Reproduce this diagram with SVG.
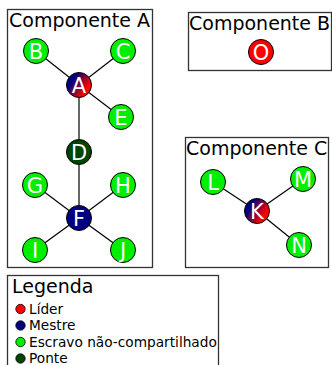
<svg xmlns="http://www.w3.org/2000/svg" width="332" height="365" viewBox="0 0 332 365">
  <style>
    .box { fill: #ffffff; stroke: #333333; stroke-width: 1.3; }
    .title { font-family: "DejaVu Sans", sans-serif; font-size: 19px; fill: #000000; }
    .node circle { stroke: #000000; stroke-width: 1; }
    .node text { font-family: "DejaVu Sans", sans-serif; font-size: 21px; fill: #ffffff; text-anchor: middle; }
    .edges line { stroke: #000000; stroke-width: 1.2; }
    .leader { fill: #ff0000; }
    .master { fill: #000080; }
    .slave { fill: #00ee00; }
    .bridge { fill: #004400; }
    .mixed { fill: url(#leaderMaster); }
    .legend text { font-family: "DejaVu Sans", sans-serif; font-size: 13.7px; fill: #000000; }
    .legend circle { stroke: #000000; stroke-width: 0.8; }
  </style>
  <defs>
    <linearGradient id="leaderMaster" x1="0.1" y1="0.25" x2="0.9" y2="0.75">
      <stop offset="0.15" stop-color="#000080"/>
      <stop offset="0.85" stop-color="#ff0000"/>
    </linearGradient>
  </defs>

  <rect width="332" height="365" fill="#ffffff"/>

  <!-- component frames -->
  <rect class="box" x="7.5" y="9.5" width="145" height="258"/>
  <text class="title" x="9" y="27">Componente A</text>
  <rect class="box" x="188.5" y="12.5" width="143" height="58"/>
  <text class="title" x="189" y="30">Componente B</text>
  <rect class="box" x="185.5" y="137.5" width="143" height="130"/>
  <text class="title" x="186" y="155">Componente C</text>

  <g class="edges">
    <line x1="36" y1="51" x2="79" y2="85"/>
    <line x1="123" y1="51" x2="79" y2="85"/>
    <line x1="121" y1="117" x2="79" y2="85"/>
    <line x1="79" y1="85" x2="79" y2="152"/>
    <line x1="79" y1="152" x2="79" y2="218"/>
    <line x1="35" y1="185" x2="79" y2="218"/>
    <line x1="123" y1="185" x2="79" y2="218"/>
    <line x1="35" y1="250" x2="79" y2="218"/>
    <line x1="123" y1="250" x2="79" y2="218"/>
    <line x1="213" y1="182" x2="257" y2="211"/>
    <line x1="303" y1="179" x2="257" y2="211"/>
    <line x1="299" y1="245" x2="257" y2="211"/>
  </g>

  <g id="node-B" class="node"><circle class="slave" cx="36" cy="51" r="12.5"/><text x="36" y="58.5">B</text></g>
  <g id="node-C" class="node"><circle class="slave" cx="123" cy="51" r="12.5"/><text x="123" y="58.5">C</text></g>
  <g id="node-A" class="node"><circle class="mixed" cx="79" cy="85" r="12.5"/><text x="79" y="92.5">A</text></g>
  <g id="node-E" class="node"><circle class="slave" cx="121" cy="117" r="12.5"/><text x="121" y="124.5">E</text></g>
  <g id="node-D" class="node"><circle class="bridge" cx="79" cy="152" r="12.5"/><text x="79" y="159.5">D</text></g>
  <g id="node-G" class="node"><circle class="slave" cx="35" cy="185" r="12.5"/><text x="35" y="192.5">G</text></g>
  <g id="node-H" class="node"><circle class="slave" cx="123" cy="185" r="12.5"/><text x="123" y="192.5">H</text></g>
  <g id="node-F" class="node"><circle class="master" cx="79" cy="218" r="12.5"/><text x="79" y="225.5">F</text></g>
  <g id="node-I" class="node"><circle class="slave" cx="35" cy="250" r="12.5"/><text x="35" y="257.5">I</text></g>
  <g id="node-J" class="node"><circle class="slave" cx="123" cy="250" r="12.5"/><text x="123" y="257.5">J</text></g>

  <g id="node-O" class="node"><circle class="leader" cx="261" cy="52" r="12.5"/><text x="261" y="59.5">O</text></g>

  <g id="node-L" class="node"><circle class="slave" cx="213" cy="182" r="12.5"/><text x="213" y="189.5">L</text></g>
  <g id="node-M" class="node"><circle class="slave" cx="303" cy="179" r="12.5"/><text x="303" y="186.5">M</text></g>
  <g id="node-K" class="node"><circle class="mixed" cx="257" cy="211" r="12.5"/><text x="257" y="218.5">K</text></g>
  <g id="node-N" class="node"><circle class="slave" cx="299" cy="245" r="12.5"/><text x="299" y="252.5">N</text></g>

  <!-- legend -->
  <g id="legend" class="legend">
    <rect class="box" x="7.5" y="275.5" width="211" height="95"/>
    <text x="12" y="293" style="font-size:19px">Legenda</text>
    <circle class="leader" cx="20.5" cy="309" r="4.7"/>
    <text x="29" y="313.5">Líder</text>
    <circle class="master" cx="20.5" cy="325.5" r="4.7"/>
    <text x="29" y="330">Mestre</text>
    <circle class="slave" cx="20.5" cy="342" r="4.7"/>
    <text x="29" y="346.5">Escravo não-compartilhado</text>
    <circle class="bridge" cx="20.5" cy="358.5" r="4.7"/>
    <text x="29" y="363">Ponte</text>
  </g>
</svg>
